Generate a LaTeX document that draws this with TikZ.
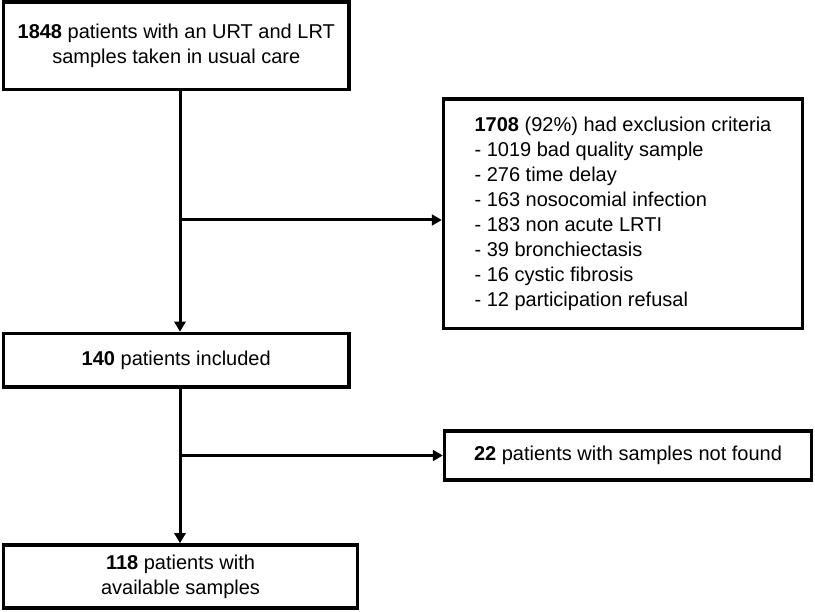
\documentclass[tikz,border=0pt]{standalone}
\usepackage{fontspec}
\setmainfont{Liberation Sans}
\usetikzlibrary{arrows.meta}
\begin{document}
\begin{tikzpicture}[x=1pt,y=-1pt,
  box/.style={draw=black,line width=3.5pt,fill=white,inner sep=0pt,
    font=\fontsize{20}{25}\selectfont,align=center},
  arr/.style={line width=3pt,-{Triangle[length=10pt,width=11pt]}}]
\useasboundingbox (0,0) rectangle (815,612);
\node[box,minimum width=345.5pt,minimum height=87.5pt] (b1) at (176.25,46)
  {\textbf{1848} patients with an URT and LRT\\samples taken in usual care};
\node[box,minimum width=359pt,minimum height=229.5pt,align=left] (b2) at (623,213.75)
  {\textbf{1708} (92\%) had exclusion criteria\\
   - 1019 bad quality sample\\
   - 276 time delay\\
   - 163 nosocomial infection\\
   - 183 non acute LRTI\\
   - 39 bronchiectasis\\
   - 16 cystic fibrosis\\
   - 12 participation refusal};
\node[box,minimum width=345.5pt,minimum height=53.5pt] (b3) at (176.25,360.25)
  {\textbf{140} patients included};
\node[box,minimum width=367pt,minimum height=49pt] (b4) at (628,455.5)
  {\textbf{22} patients with samples not found};
\node[box,minimum width=354pt,minimum height=63pt] (b5) at (180.5,576.5)
  {\textbf{118} patients with\\available samples};
\coordinate (xv) at (180,0);
\coordinate (j1) at (180,220);
\coordinate (j2) at (180,455.5);
\draw[arr] (b1.south -| xv) -- (b3.north -| xv);
\draw[arr] (j1) -- (j1 -| b2.west);
\draw[arr] (b3.south -| xv) -- (b5.north -| xv);
\draw[arr] (j2) -- (j2 -| b4.west);
\end{tikzpicture}
\end{document}
